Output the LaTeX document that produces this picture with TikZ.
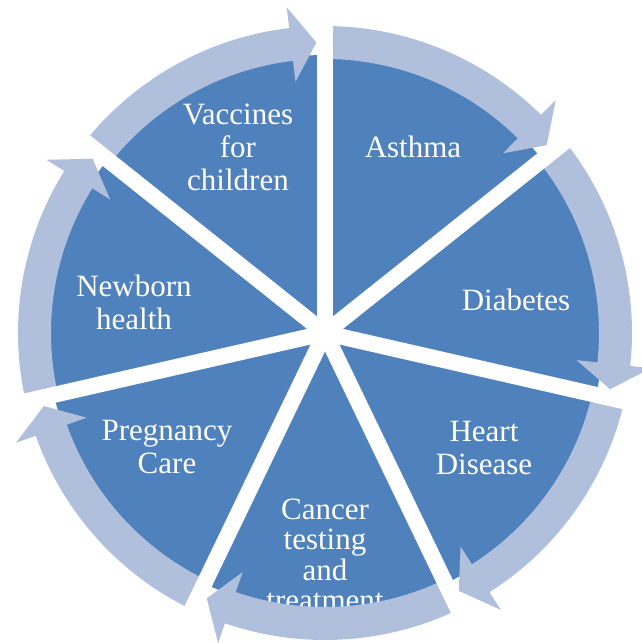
\documentclass[tikz,border=0pt]{standalone}
\usepackage{fontspec}
\setmainfont{Liberation Serif}
\definecolor{pieblue}{RGB}{79,129,189}
\definecolor{bandblue}{RGB}{176,192,220}
\tikzset{
  lbl/.style={text=white, align=center, inner sep=0pt, font=\fontsize{31}{33}\selectfont},
  lbltight/.style={lbl, font=\fontsize{31}{29.5}\selectfont},
  band/.style={fill=bandblue},
  spoke/.style={draw=white, line width=16pt}
}
\begin{document}
\begin{tikzpicture}
\useasboundingbox (-325pt,-310pt) rectangle (317pt,333pt);
% pie
\fill[pieblue] (0,0) circle[radius=278pt];
% labels
\node[lbl] (vacc) at (-87pt,182pt) {\strut Vaccines\\\strut for\\\strut children};
\node[lbl] (asth) at (88pt,182pt) {\strut Asthma};
\node[lbl] (diab) at (191pt,29pt) {\strut Diabetes};
\node[lbl] (heart) at (159pt,-118pt) {\strut Heart\\\strut Disease};
\node[lbltight] (canc) at (0pt,-226pt) {\strut Cancer\\\strut testing\\\strut and\\\strut treatment};
\node[lbl] (preg) at (-158pt,-117pt) {\strut Pregnancy\\\strut Care};
\node[lbl] (newb) at (-191pt,27pt) {\strut Newborn\\\strut health};
% circular arrow bands
\foreach \k in {0,...,6}{
  \pgfmathsetmacro\s{90-\k*360/7}
  \pgfmathsetmacro\e{90-(\k+1)*360/7}
  \pgfmathsetmacro\t{\e+1.7}
  \pgfmathsetmacro\b{\e+6.7}
  \fill[band] (\s:307pt) arc[start angle=\s, end angle=\b, radius=307pt]
    -- (\b:328pt) -- (\t:290.5pt) -- (\b:253pt) -- (\b:274pt)
    arc[start angle=\b, end angle=\s, radius=274pt] -- cycle;
}
% white spokes
\coordinate (ctr) at (0,0);
\foreach \k in {0,...,6}{
  \draw[spoke] (ctr) -- ({90-\k*360/7}:318pt);
}
\end{tikzpicture}
\end{document}
